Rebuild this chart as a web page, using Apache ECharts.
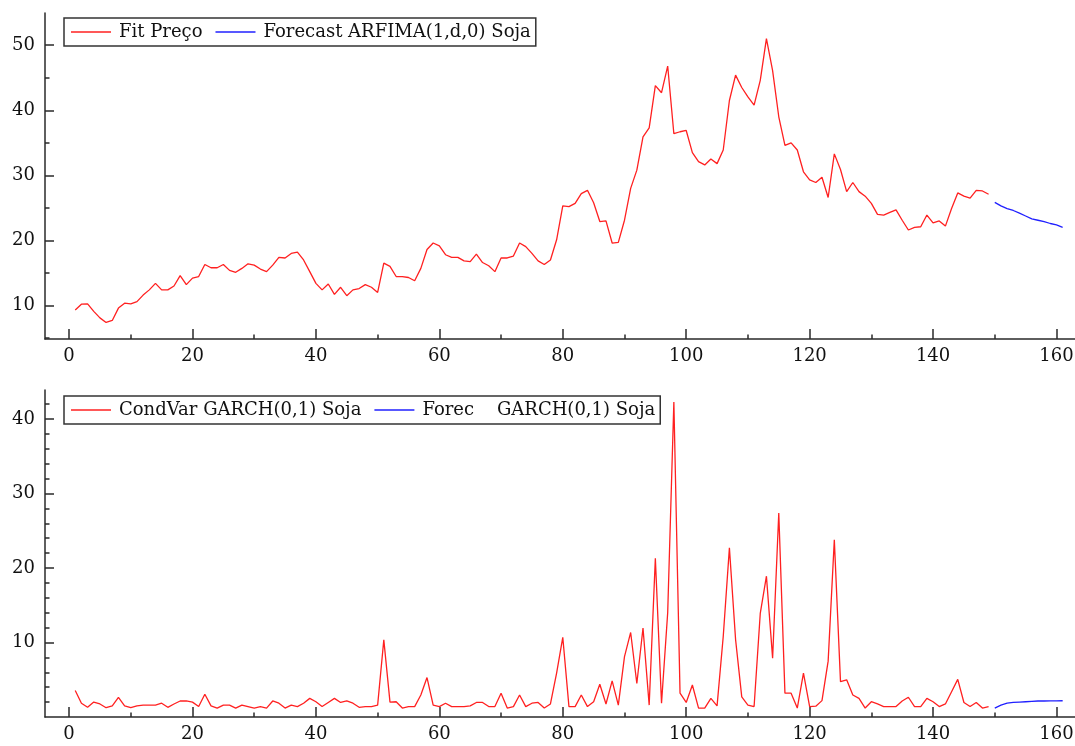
<!DOCTYPE html>
<html>
<head>
<meta charset="utf-8">
<script src="https://cdn.jsdelivr.net/npm/echarts@6/dist/echarts.min.js"></script>
<style>
html,body{margin:0;padding:0;background:#fff;}
#c{width:1075px;height:746px;}
</style>
</head>
<body>
<div id="c"></div>
<script>
// ---- data ----
var fitStart = 1;
var fitPreco = [9.3,10.2,10.25,9.1,8.1,7.4,7.7,9.6,10.35,10.25,
  10.6,11.6,12.4,13.4,12.4,12.4,13.0,14.6,13.2,14.2,
  14.45,16.3,15.8,15.8,16.3,15.4,15.1,15.7,16.4,16.2,
  15.6,15.2,16.2,17.4,17.3,18.0,18.2,17.0,15.2,13.4,
  12.4,13.3,11.7,12.8,11.5,12.4,12.6,13.2,12.8,12.0,
  16.5,16.0,14.45,14.45,14.3,13.8,15.7,18.6,19.6,19.15,
  17.8,17.4,17.4,16.85,16.75,17.9,16.6,16.1,15.2,17.3,
  17.3,17.6,19.6,19.05,18.0,16.85,16.3,17.0,20.1,25.3,
  25.2,25.7,27.2,27.7,25.8,22.9,23.0,19.6,19.7,23.1,
  28.0,30.8,35.9,37.3,43.8,42.7,46.8,36.4,36.7,36.9,
  33.5,32.1,31.6,32.5,31.8,33.9,41.5,45.4,43.5,42.05,
  40.8,44.6,51.0,46.1,39.0,34.6,35.0,33.9,30.55,29.3,
  28.9,29.7,26.6,33.3,30.9,27.5,28.9,27.5,26.8,25.7,
  24.0,23.9,24.3,24.7,23.1,21.6,22.0,22.1,23.9,22.7,
  23.0,22.2,24.9,27.3,26.8,26.5,27.7,27.6,27.1];
var fcStart = 150;
var forecastArfima = [25.85,25.3,24.9,24.6,24.2,23.75,23.3,23.1,22.9,22.6,22.4,22.0];

var condVar = [3.55,1.85,1.3,2.0,1.75,1.25,1.5,2.65,1.5,1.25,
  1.5,1.6,1.6,1.6,1.85,1.3,1.75,2.15,2.15,2.0,
  1.4,3.05,1.5,1.2,1.6,1.6,1.2,1.6,1.4,1.2,
  1.4,1.2,2.15,1.85,1.2,1.6,1.4,1.85,2.5,2.05,
  1.4,1.95,2.5,1.95,2.15,1.85,1.3,1.4,1.4,1.6,
  10.35,2.0,2.05,1.2,1.4,1.4,2.95,5.3,1.6,1.4,
  1.85,1.4,1.4,1.4,1.5,1.95,1.95,1.4,1.4,3.2,
  1.2,1.4,2.95,1.4,1.85,1.95,1.2,1.75,5.9,10.7,
  1.4,1.4,2.95,1.4,2.05,4.4,1.75,4.85,1.6,8.1,
  11.35,4.5,11.95,1.6,21.3,1.85,14.0,42.3,3.2,1.95,
  4.3,1.2,1.2,2.5,1.5,10.8,22.7,10.4,2.7,1.6,
  1.4,13.9,18.9,7.9,27.4,3.2,3.2,1.2,5.9,1.4,
  1.45,2.2,7.5,23.8,4.75,5.0,2.95,2.5,1.2,2.05,
  1.75,1.4,1.4,1.4,2.15,2.65,1.4,1.4,2.5,2.05,
  1.4,1.75,3.4,5.05,1.95,1.4,1.95,1.2,1.4];
var forecastGarch = [1.2,1.6,1.85,1.95,2.0,2.05,2.1,2.15,2.15,2.17,2.17,2.18];

var xMajorTicks = [0,20,40,60,80,100,120,140,160];
var xMinorTicks = [10,30,50,70,90,110,130,150];
var yTopMajor = [10,20,30,40,50];
var yTopMinor = [5,15,25,35,45];
var yBotMajor = [10,20,30,40];
var yBotMinor = [2,4,6,8,12,14,16,18,22,24,26,28,32,34,36,38,42];

var names = ['Fit Preço','Forecast ARFIMA(1,d,0) Soja','CondVar GARCH(0,1) Soja','Forec    GARCH(0,1) Soja'];

function pairs(arr, start){ return arr.map(function(v,i){ return [start+i, v]; }); }

// ---- chart ----
var FONT = 'DejaVu Serif';
var AX = '#2a2a2a';
var X_MIN = -3.9, X_MAX = 163;

function xLabelAxis(gi){
  return {gridIndex:gi, type:'value', position:'bottom', offset:0, min:X_MIN, max:X_MAX,
    axisLine:{show:true, onZero:false, lineStyle:{color:AX, width:1.5}},
    axisTick:{show:false},
    axisLabel:{show:true, customValues:xMajorTicks, margin:8, color:'#111', fontFamily:FONT, fontSize:18},
    splitLine:{show:false}};
}
function xTickAxis(gi, ticks, len){
  return {gridIndex:gi, type:'value', position:'bottom', offset:0, min:X_MIN, max:X_MAX,
    axisLine:{show:false, onZero:false},
    axisTick:{show:true, inside:true, length:len, customValues:ticks, lineStyle:{color:AX, width:1.5}},
    axisLabel:{show:false}, splitLine:{show:false}};
}
function yLabelAxis(gi, mn, mx, ticks){
  return {gridIndex:gi, type:'value', position:'left', offset:0, min:mn, max:mx,
    axisLine:{show:true, onZero:false, lineStyle:{color:AX, width:1.5}},
    axisTick:{show:false},
    axisLabel:{show:true, customValues:ticks, margin:10, color:'#111', fontFamily:FONT, fontSize:18},
    splitLine:{show:false}};
}
function yTickAxis(gi, mn, mx, ticks, len){
  return {gridIndex:gi, type:'value', position:'left', offset:0, min:mn, max:mx,
    axisLine:{show:false, onZero:false},
    axisTick:{show:true, inside:true, length:len, customValues:ticks, lineStyle:{color:AX, width:1.5}},
    axisLabel:{show:false}, splitLine:{show:false}};
}
function lineSeries(name, data, xi, yi, color){
  return {name:name, type:'line', data:data, xAxisIndex:xi, yAxisIndex:yi,
    symbol:'none', showSymbol:false, clip:true,
    lineStyle:{color:color, width:1.3}, itemStyle:{color:color}};
}
var legendCommon = {
  orient:'horizontal', icon:'rect', itemWidth:40, itemHeight:1.5, itemGap:13,
  backgroundColor:'#fff', borderColor:'#333', borderWidth:1.5, borderRadius:0,
  padding:[4,5,4,7],
  textStyle:{fontFamily:FONT, fontSize:18, color:'#111', lineHeight:20, padding:[0,0,0,3]}
};

var chart = echarts.init(document.getElementById('c'), null, {renderer:'canvas'});
chart.setOption({
  animation:false,
  backgroundColor:'#fff',
  grid:[
    {left:45, right:0, top:13, height:326, containLabel:false, outerBoundsMode:'none'},
    {left:45, right:0, top:390, height:327, containLabel:false, outerBoundsMode:'none'}
  ],
  xAxis:[
    xLabelAxis(0), xTickAxis(0, xMajorTicks, 10), xTickAxis(0, xMinorTicks, 4.5),
    xLabelAxis(1), xTickAxis(1, xMajorTicks, 10), xTickAxis(1, xMinorTicks, 4.5)
  ],
  yAxis:[
    yLabelAxis(0, 4.85, 54.95, yTopMajor), yTickAxis(0, 4.85, 54.95, yTopMajor, 9), yTickAxis(0, 4.85, 54.95, yTopMinor, 4.5),
    yLabelAxis(1, 0, 43.9, yBotMajor), yTickAxis(1, 0, 43.9, yBotMajor, 9), yTickAxis(1, 0, 43.9, yBotMinor, 4.5)
  ],
  legend:[
    Object.assign({}, legendCommon, {left:64, top:18, data:[names[0], names[1]]}),
    Object.assign({}, legendCommon, {left:64, top:396, data:[names[2], names[3]]})
  ],
  series:[
    lineSeries(names[0], pairs(fitPreco, fitStart), 0, 0, '#ff2020'),
    lineSeries(names[1], pairs(forecastArfima, fcStart), 0, 0, '#2020ff'),
    lineSeries(names[2], pairs(condVar, fitStart), 3, 3, '#ff2020'),
    lineSeries(names[3], pairs(forecastGarch, fcStart), 3, 3, '#2020ff')
  ]
});
</script>
</body>
</html>
